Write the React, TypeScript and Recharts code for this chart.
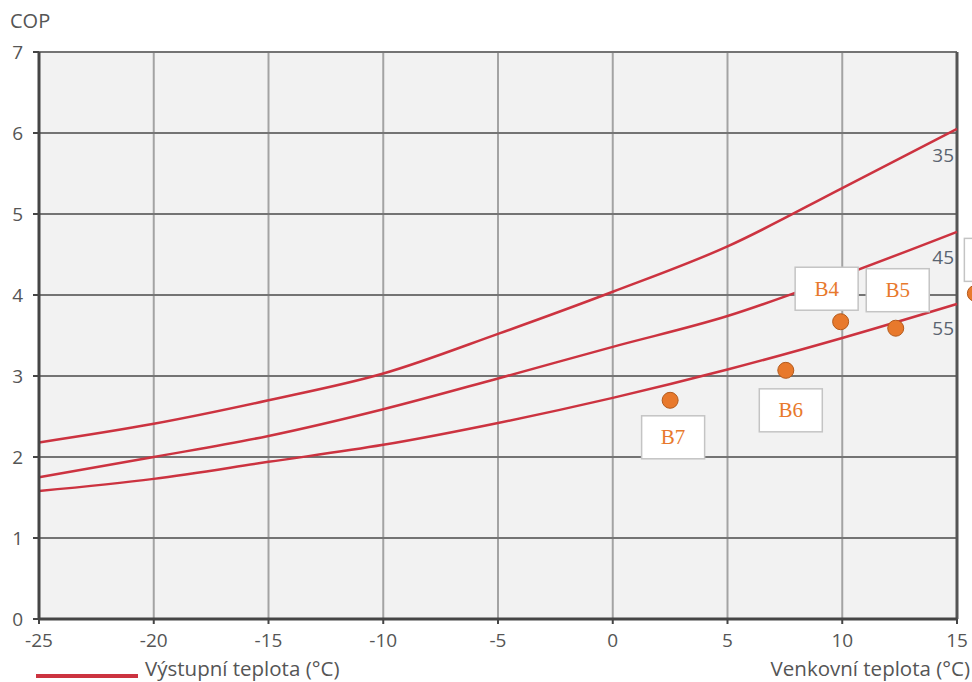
import React from 'react';
import {
  ComposedChart,
  Line,
  Scatter,
  XAxis,
  YAxis,
  CartesianGrid,
  ReferenceDot,
  ReferenceLine,
} from 'recharts';

// Outdoor temperature (°C)
const temps = [-25, -20, -15, -10, -5, 0, 5, 10, 15];
// COP curves for outlet temperature 35 / 45 / 55 °C
const cop35 = [2.18, 2.41, 2.7, 3.03, 3.52, 4.04, 4.6, 5.32, 6.05];
const cop45 = [1.75, 2.0, 2.26, 2.59, 2.97, 3.36, 3.74, 4.24, 4.78];
const cop55 = [1.58, 1.73, 1.94, 2.15, 2.42, 2.73, 3.08, 3.47, 3.89];

const xTicks = [-25, -20, -15, -10, -5, 0, 5, 10, 15];
const yTicks = [0, 1, 2, 3, 4, 5, 6, 7];

// Measured points
const pointNames = ['B7', 'B6', 'B4', 'B5'];
const pointX = [2.5, 7.54, 9.93, 12.33];
const pointY = [2.7, 3.07, 3.67, 3.59];

// partially visible point at the right edge
const edgePointX = 15.8;
const edgePointY = 4.02;

const curveLabels = ['35', '45', '55'];
const curveLabelY = [5.73, 4.47, 3.59];

const labelOffset: Record<string, [number, number]> = {
  B4: [-14, -33],
  B5: [2, -38],
  B6: [5, 40],
  B7: [3, 37],
};

const lineData = temps.map((t, i) => ({ x: t, c35: cop35[i], c45: cop45[i], c55: cop55[i] }));
const pointData = pointNames.map((n, i) => ({ name: n, x: pointX[i], y: pointY[i] }));

const RED = '#cc3340';
const ORANGE = '#e8792c';
const FONT = '"Open Sans", sans-serif';
const TICK_FONT = { fontSize: 19, fill: '#555', fontFamily: FONT };

const PointShape = (props: any) => {
  const { cx, cy, payload } = props;
  const [dx, dy] = labelOffset[payload.name] || [0, -36];
  return (
    <g>
      <circle cx={cx} cy={cy} r={8} fill={ORANGE} stroke="#b35a1c" strokeWidth={1} />
      <rect x={cx + dx - 31.5} y={cy + dy - 21.5} width={63} height={43} fill="#fff" stroke="#c4c4c4" strokeWidth={1.5} />
      <text
        x={cx + dx}
        y={cy + dy}
        textAnchor="middle"
        dominantBaseline="central"
        fontFamily='"Liberation Serif", serif'
        fontSize={21}
        fill={ORANGE}
      >
        {payload.name}
      </text>
    </g>
  );
};

const EdgeShape = (props: any) => {
  const { cx, cy } = props;
  return (
    <g>
      <circle cx={cx} cy={cy} r={8} fill={ORANGE} stroke="#b35a1c" strokeWidth={1} />
      <rect x={cx - 11} y={cy - 55} width={63} height={43} fill="#fff" stroke="#c4c4c4" strokeWidth={1.5} />
    </g>
  );
};

const CurveLabel = (props: any) => {
  const { viewBox, value } = props;
  const x = viewBox.x + (viewBox.width || 0) / 2;
  const y = viewBox.y + (viewBox.height || 0) / 2;
  return (
    <text
      x={x - 3}
      y={y}
      textAnchor="end"
      dominantBaseline="central"
      fontFamily={FONT}
      fontSize={19}
      fill="#5a6470"
    >
      {value}
    </text>
  );
};

export default function App() {
  return (
    <div style={{ position: 'absolute', left: 0, top: 0, width: 972, height: 682, background: '#fff' }}>
      <ComposedChart
        width={972}
        height={682}
        data={lineData}
        margin={{ top: 52, right: 15, bottom: 33, left: 9 }}
      >
        <CartesianGrid horizontal={false} stroke="#a3a3a3" strokeWidth={2} fill="#f2f2f2" />
        <CartesianGrid vertical={false} stroke="#747474" strokeWidth={2} />
        <XAxis
          type="number"
          dataKey="x"
          domain={[-25, 15]}
          ticks={xTicks}
          interval={0}
          height={30}
          tick={TICK_FONT}
          tickSize={5}
          tickMargin={10}
          axisLine={{ stroke: '#454545', strokeWidth: 3 }}
          tickLine={{ stroke: '#454545', strokeWidth: 2 }}
        />
        <YAxis
          type="number"
          domain={[0, 7]}
          ticks={yTicks}
          interval={0}
          width={30}
          tick={TICK_FONT}
          tickSize={6}
          tickMargin={10}
          axisLine={{ stroke: '#454545', strokeWidth: 3 }}
          tickLine={{ stroke: '#454545', strokeWidth: 2 }}
        />
        <ReferenceLine x={15} stroke="#555" strokeWidth={3} />
        <Line type="monotone" dataKey="c35" stroke={RED} strokeWidth={2.5} dot={false} isAnimationActive={false} />
        <Line type="monotone" dataKey="c45" stroke={RED} strokeWidth={2.5} dot={false} isAnimationActive={false} />
        <Line type="monotone" dataKey="c55" stroke={RED} strokeWidth={2.5} dot={false} isAnimationActive={false} />
        {curveLabels.map((lab, i) => (
          <ReferenceDot
            key={lab}
            x={15}
            y={curveLabelY[i]}
            r={0}
            stroke="none"
            fill="none"
            ifOverflow="visible"
            label={<CurveLabel value={lab} />}
          />
        ))}
        <ReferenceDot x={edgePointX} y={edgePointY} ifOverflow="visible" shape={<EdgeShape />} />
        <Scatter data={pointData} dataKey="y" shape={<PointShape />} isAnimationActive={false} />
      </ComposedChart>
      <div
        style={{
          position: 'absolute',
          left: 10,
          top: 7,
          fontFamily: FONT,
          fontSize: 20,
          color: '#555',
        }}
      >
        COP
      </div>
      <div
        style={{
          position: 'absolute',
          left: 36,
          top: 674,
          width: 102,
          height: 4,
          background: RED,
        }}
      />
      <div
        style={{
          position: 'absolute',
          left: 145,
          top: 654,
          fontFamily: FONT,
          fontSize: 20.5,
          color: '#555',
          whiteSpace: 'nowrap',
        }}
      >
        Výstupní teplota (°C)
      </div>
      <div
        style={{
          position: 'absolute',
          right: 2,
          top: 654,
          fontFamily: FONT,
          fontSize: 20.5,
          color: '#555',
          whiteSpace: 'nowrap',
        }}
      >
        Venkovní teplota (°C)
      </div>
    </div>
  );
}
